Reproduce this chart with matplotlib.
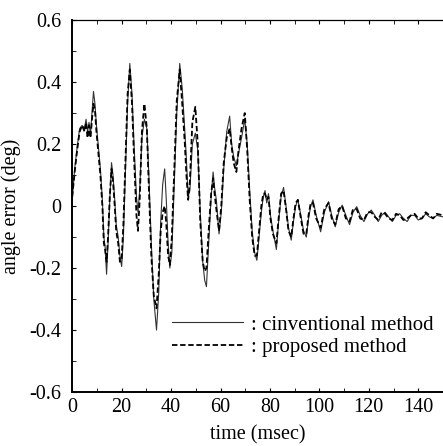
import matplotlib
matplotlib.use('Agg')
import matplotlib.pyplot as plt
from matplotlib.ticker import MultipleLocator

# time axis (msec), shared by both curves
t = [0.0, 1.0, 2.0, 3.0, 4.0, 5.0, 5.6, 6.2, 6.8, 7.4, 8.0, 8.6, 9.2, 9.8,
     10.6, 11.4, 12.2, 12.8, 13.3, 13.9, 14.5, 15.2, 15.9, 16.5, 17.2, 17.8,
     18.6, 19.3, 20.0, 20.7, 21.5, 22.4, 23.3, 24.2, 25.0, 26.0, 26.6, 27.3,
     28.2, 29.2, 30.2, 31.0, 32.0, 33.0, 34.1, 35.0, 35.8, 36.6, 37.4, 38.0,
     38.8, 39.5, 40.3, 41.2, 42.3, 43.5, 44.5, 45.5, 46.2, 46.9, 47.6, 48.6,
     49.8, 50.8, 51.8, 52.8, 53.6, 54.3, 55.2, 56.2, 57.0, 57.6, 58.3, 59.4,
     60.3, 61.3, 62.5, 63.7, 64.5, 65.3, 66.4, 67.3, 68.5, 69.8, 70.8, 71.8,
     72.8, 73.8, 74.7, 75.6, 76.5, 77.3, 78.0, 78.7, 79.4, 80.2, 81.2, 82.6,
     83.5, 84.5, 85.5, 86.5, 87.5, 88.6, 89.5, 90.4, 91.3, 92.5, 93.6, 94.7,
     95.6, 96.5, 97.4, 98.7, 100.5, 102.0, 103.7, 105.0, 106.4, 107.8, 109.2,
     110.7, 112.2, 113.6, 115.1, 116.5, 118.0, 119.5, 121.0, 122.4, 123.8,
     125.2, 126.6, 128.0, 129.5, 131.0, 132.5, 134.0, 135.5, 137.0, 138.5,
     140.0, 141.5, 143.0, 144.5, 146.0, 147.5, 150.0]

# conventional method (solid)
conventional = [0.02, 0.12, 0.19, 0.25, 0.26, 0.25, 0.28, 0.24, 0.27, 0.23,
                0.30, 0.37, 0.33, 0.26, 0.19, 0.12, 0.02, -0.10, -0.13, -0.22,
                -0.12, 0.02, 0.14, 0.10, 0.02, -0.06, -0.10, -0.16, -0.195,
                -0.10, 0.10, 0.33, 0.46, 0.36, 0.20, 0.03, -0.02, 0.05, 0.22,
                0.28, 0.25, 0.10, -0.12, -0.30, -0.40, -0.28, -0.05, 0.07,
                0.12, 0.03, -0.12, -0.20, -0.15, 0.05, 0.30, 0.46, 0.38, 0.25,
                0.15, 0.03, 0.05, 0.20, 0.235, 0.18, -0.02, -0.18, -0.24,
                -0.26, -0.12, 0.03, 0.11, 0.06, 0.02, -0.09, -0.02, 0.12, 0.24,
                0.29, 0.20, 0.16, 0.13, 0.17, 0.22, 0.28, 0.20, 0.05, -0.08,
                -0.15, -0.175, -0.10, -0.02, 0.03, 0.05, 0.01, 0.04, -0.03,
                -0.08, -0.14, -0.05, 0.03, 0.06, 0.00, -0.07, -0.11, -0.05,
                0.00, 0.02, -0.03, -0.08, -0.10, -0.04, 0.00, 0.02, -0.03,
                -0.083, -0.02, 0.014, -0.03, -0.067, -0.02, 0.003, -0.03, -0.06,
                -0.02, -0.002, -0.03, -0.05, -0.025, -0.013, -0.03, -0.05,
                -0.03, -0.02, -0.035, -0.05, -0.03, -0.025, -0.04, -0.05, -0.03,
                -0.03, -0.045, -0.04, -0.025, -0.035, -0.04, -0.03, -0.035]

# proposed method (dashed)
proposed = [0.03, 0.11, 0.18, 0.24, 0.26, 0.24, 0.27, 0.22, 0.26, 0.22,
            0.28, 0.33, 0.31, 0.24, 0.17, 0.10, 0.00, -0.12, -0.14, -0.18,
            -0.10, 0.03, 0.12, 0.08, 0.00, -0.08, -0.12, -0.18, -0.17,
            -0.06, 0.14, 0.36, 0.44, 0.33, 0.16, -0.03, -0.08, 0.02, 0.24,
            0.33, 0.25, 0.06, -0.16, -0.29, -0.33, -0.22, -0.08, -0.02,
            0.00, -0.05, -0.16, -0.19, -0.10, 0.10, 0.34, 0.44, 0.33, 0.21,
            0.10, 0.02, 0.08, 0.27, 0.32, 0.20, -0.05, -0.18, -0.21,
            -0.20, -0.08, 0.04, 0.09, 0.04, -0.01, -0.08, 0.00, 0.14, 0.22,
            0.25, 0.19, 0.14, 0.11, 0.18, 0.25, 0.30, 0.18, 0.02, -0.10,
            -0.16, -0.16, -0.08, 0.00, 0.04, 0.04, 0.02, 0.03, -0.04,
            -0.09, -0.12, -0.04, 0.04, 0.05, -0.01, -0.08, -0.10, -0.04,
            0.01, 0.02, -0.04, -0.09, -0.09, -0.03, 0.01, 0.01, -0.04,
            -0.07, -0.01, 0.01, -0.04, -0.06, -0.01, 0.00, -0.04, -0.05,
            -0.01, -0.01, -0.04, -0.045, -0.02, -0.02, -0.035, -0.045,
            -0.02, -0.025, -0.04, -0.045, -0.025, -0.03, -0.045, -0.04, -0.03,
            -0.025, -0.04, -0.04, -0.02, -0.03, -0.04, -0.025, -0.03]

plt.rcParams['font.family'] = ['Liberation Serif', 'DejaVu Serif']
plt.rcParams['font.size'] = 14.5

fig = plt.figure(figsize=(4.43, 4.46), dpi=100)
ax = fig.add_axes([0.163, 0.121, 0.837, 0.834])

ax.plot(t, conventional, color='#333333', linewidth=0.8,
        label=': cinventional method')
ax.plot(t, proposed, color='black', linewidth=1.3, dashes=(3, 1.5),
        label=': proposed method')

ax.set_xlim(0, 150)
ax.set_ylim(-0.6, 0.6)
ax.xaxis.set_major_locator(MultipleLocator(20))
ax.xaxis.set_minor_locator(MultipleLocator(10))
ax.yaxis.set_minor_locator(MultipleLocator(0.1))
ax.set_yticks([-0.6, -0.4, -0.2, 0, 0.2, 0.4, 0.6])
ax.set_yticklabels(['-0.6', '-0.4', '-0.2', '0', '0.2', '0.4', '0.6'])
ax.tick_params(which='both', direction='in', top=True, right=False, length=3)
ax.tick_params(axis='y', pad=8)
ax.tick_params(axis='x', pad=4)
ax.spines['right'].set_visible(False)
ax.spines['left'].set_linewidth(1.4)
ax.spines['bottom'].set_linewidth(1.4)
ax.spines['top'].set_linewidth(0.9)

ax.set_xlabel('time (msec)', labelpad=6)
ax.set_ylabel('angle error (deg)', labelpad=6)

ax.legend(frameon=False, loc='upper left', bbox_to_anchor=(0.27, 0.207),
          borderpad=0, borderaxespad=0, fontsize=15,
          handlelength=3.4, handletextpad=0.4, labelspacing=0.15)

fig.savefig('out.png', dpi=100)
